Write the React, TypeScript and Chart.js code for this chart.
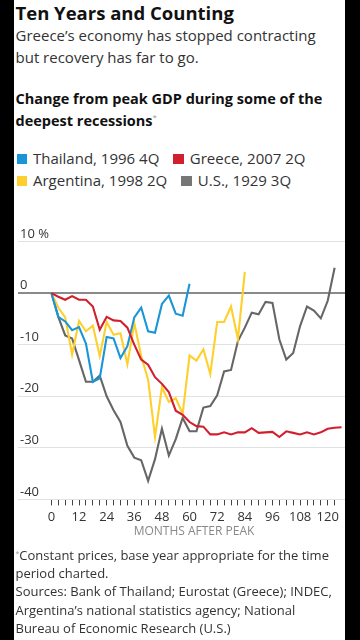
import React, { useEffect, useRef } from "react";
import { Chart, registerables } from "chart.js";

Chart.register(...registerables);

// Months after peak (quarterly observations)
const months = [0, 3, 6, 9, 12, 15, 18, 21, 24, 27, 30, 33, 36, 39, 42, 45, 48, 51, 54, 57, 60, 63, 66, 69, 72, 75, 78, 81, 84, 87, 90, 93, 96, 99, 102, 105, 108, 111, 114, 117, 120, 123, 126];

const seriesNames = ["Thailand, 1996 4Q", "Greece, 2007 2Q", "Argentina, 1998 2Q", "U.S., 1929 3Q"];
const seriesColors = ["#1a96d8", "#d21f2d", "#fdd02e", "#666666"];
const legendColors = ["#1a96d8", "#d21f2d", "#fdd02e", "#767676"];

const thailand = [0, -4.6, -5.5, -7.2, -6.6, -9.8, -17.2, -16.5, -8.5, -8.8, -12.6, -10.3, -4.7, -2.8, -7.4, -7.7, -2.1, -0.5, -4.0, -4.4, 1.8];
const greece = [0, -0.7, -1.3, -0.6, -1.3, -1.3, -2.6, -7.1, -4.6, -5.3, -5.4, -6.7, -10.0, -12.9, -13.9, -16.3, -17.6, -19.2, -22.8, -23.6, -25.0, -25.8, -25.9, -27.4, -27.4, -27.0, -27.4, -27.0, -27.0, -26.2, -27.1, -27.0, -26.9, -27.9, -26.8, -27.1, -27.4, -27.0, -27.4, -27.0, -26.3, -26.1, -26.0];
const argentina = [0, -2.8, -4.7, -11.9, -5.4, -7.4, -6.3, -12.2, -5.6, -8.1, -7.8, -13.8, -5.8, -12.2, -16.8, -27.9, -18.3, -21.1, -20.4, -23.4, -12.1, -13.1, -10.9, -15.7, -5.6, -5.6, -2.6, -8.9, 4.1];
const us = [0, -4.6, -8.2, -8.8, -13.0, -17.2, -17.2, -16.0, -20.0, -22.7, -25.0, -29.6, -31.9, -32.4, -36.4, -32.2, -26.3, -31.5, -28.3, -24.2, -26.8, -26.8, -22.2, -21.9, -19.8, -15.2, -14.9, -9.3, -6.7, -3.8, -4.1, -1.7, -1.9, -9.0, -12.9, -11.6, -6.4, -2.6, -3.4, -4.9, -1.5, 4.9];

const seriesValues = [thailand, greece, argentina, us];
const drawOrder = [1, 0, 2, 3]; // lower draws on top

const yMin = -40;
const yMax = 10;
const yStep = 10;
const xMin = -14.5;
const xMax = 127.5;
const xTickStep = 3;
const xLabelStep = 12;
const xLastTick = 126;
const xLastLabel = 120;

const FONT = "'Open Sans', 'Noto Sans', sans-serif";

function ChartCanvas() {
  const ref = useRef<HTMLCanvasElement | null>(null);
  useEffect(() => {
    if (!ref.current) return;
    const chart = new Chart(ref.current, {
      type: "line",
      data: {
        datasets: seriesValues.map((vals, i) => ({
          label: seriesNames[i],
          data: vals.map((v, j) => ({ x: months[j], y: v })),
          borderColor: seriesColors[i],
          backgroundColor: seriesColors[i],
          borderWidth: 2.1,
          pointRadius: 0,
          tension: 0,
          fill: false,
          order: drawOrder[i],
        })),
      },
      options: {
        animation: false,
        responsive: false,
        maintainAspectRatio: false,
        events: [],
        layout: { padding: { top: 21.5, bottom: 7, left: 0, right: 0 } },
        plugins: { legend: { display: false }, tooltip: { enabled: false } },
        scales: {
          x: {
            type: "linear",
            min: xMin,
            max: xMax,
            border: { display: false },
            grid: {
              drawOnChartArea: false,
              drawTicks: true,
              tickLength: 6,
              tickColor: "#444",
              lineWidth: 1,
            },
            afterBuildTicks: (scale: any) => {
              scale.ticks = scale.ticks.filter(
                (t: any) => t.value >= 0 && t.value <= xLastTick && t.value % xTickStep === 0
              );
            },
            ticks: {
              stepSize: xTickStep,
              autoSkip: false,
              maxRotation: 0,
              padding: 4,
              color: "#333",
              font: { family: FONT, size: 13 },
              callback: (v: any) => (v % xLabelStep === 0 && v <= xLastLabel ? String(v) : ""),
            },
          },
          y: {
            type: "linear",
            min: yMin,
            max: yMax,
            border: { display: false },
            grid: {
              drawTicks: false,
              color: (ctx: any) => (ctx.tick && ctx.tick.value === 0 ? "#8a8a8a" : "#e2e2e2"),
              lineWidth: (ctx: any) => (ctx.tick && ctx.tick.value === 0 ? 2 : 1),
            },
            ticks: {
              stepSize: yStep,
              mirror: true,
              padding: 2,
              labelOffset: -7.5,
              color: "#333",
              font: { family: FONT, size: 13 },
              callback: (v: any) => (v === yMax ? `${v} %` : String(v)),
            },
          },
        },
      },
    });
    return () => chart.destroy();
  }, []);
  return (
    <canvas
      ref={ref}
      width={331}
      height={316}
      style={{ position: "absolute", left: 0, top: 220, width: 331, height: 316 }}
    />
  );
}

export default function App() {
  useEffect(() => {
    document.body.style.margin = "0";
    document.body.style.background = "#000";
  }, []);
  const text: React.CSSProperties = { position: "absolute", left: 1.5, whiteSpace: "nowrap", fontFamily: FONT };
  const star = (size: number, top: number): React.CSSProperties => ({
    fontSize: size,
    fontWeight: 400,
    color: "#999",
    position: "relative",
    top,
    lineHeight: 0,
  });
  return (
    <div style={{ position: "relative", width: 360, height: 640, background: "#000", overflow: "hidden" }}>
      <div style={{ position: "absolute", left: 14, top: 0, width: 331, height: 640, background: "#fff" }}>
        <div style={{ ...text, top: 2, fontSize: 18.5, lineHeight: "22px", fontWeight: 700, color: "#111" }}>
          Ten Years and Counting
        </div>
        <div style={{ ...text, top: 24, fontSize: 15, lineHeight: "22px", color: "#333" }}>
          Greece’s economy has stopped contracting
          <br />
          but recovery has far to go.
        </div>
        <div style={{ ...text, top: 88, fontSize: 14.5, lineHeight: "22px", fontWeight: 700, color: "#111" }}>
          Change from peak GDP during some of the
          <br />
          deepest recessions
          <span style={star(8, -6)}>*</span>
        </div>
        <div style={{ ...text, left: 2.5, top: 147, fontSize: 15, lineHeight: "22px", color: "#333" }}>
          {[[0, 1], [2, 3]].map((row, r) => (
            <div key={r}>
              {row.map((i) => (
                <span key={i} style={{ marginRight: 14 }}>
                  <span
                    style={{
                      display: "inline-block",
                      width: 10.5,
                      height: 10.5,
                      background: legendColors[i],
                      marginRight: 6,
                      verticalAlign: "baseline",
                    }}
                  />
                  {seriesNames[i]}
                </span>
              ))}
            </div>
          ))}
        </div>
        <ChartCanvas />
        <div
          style={{
            position: "absolute",
            left: 0,
            width: 331,
            top: 524,
            paddingLeft: 29,
            boxSizing: "border-box",
            textAlign: "center",
            fontFamily: FONT,
            fontSize: 12,
            lineHeight: "14px",
            color: "#888",
            whiteSpace: "nowrap",
          }}
        >
          MONTHS AFTER PEAK
        </div>
        <div style={{ ...text, top: 546, fontSize: 13, lineHeight: "18.2px", color: "#333" }}>
          <span style={star(7, -4)}>*</span>
          Constant prices, base year appropriate for the time
          <br />
          period charted.
          <br />
          Sources: Bank of Thailand; Eurostat (Greece); INDEC,
          <br />
          Argentina’s national statistics agency; National
          <br />
          Bureau of Economic Research (U.S.)
        </div>
      </div>
    </div>
  );
}
